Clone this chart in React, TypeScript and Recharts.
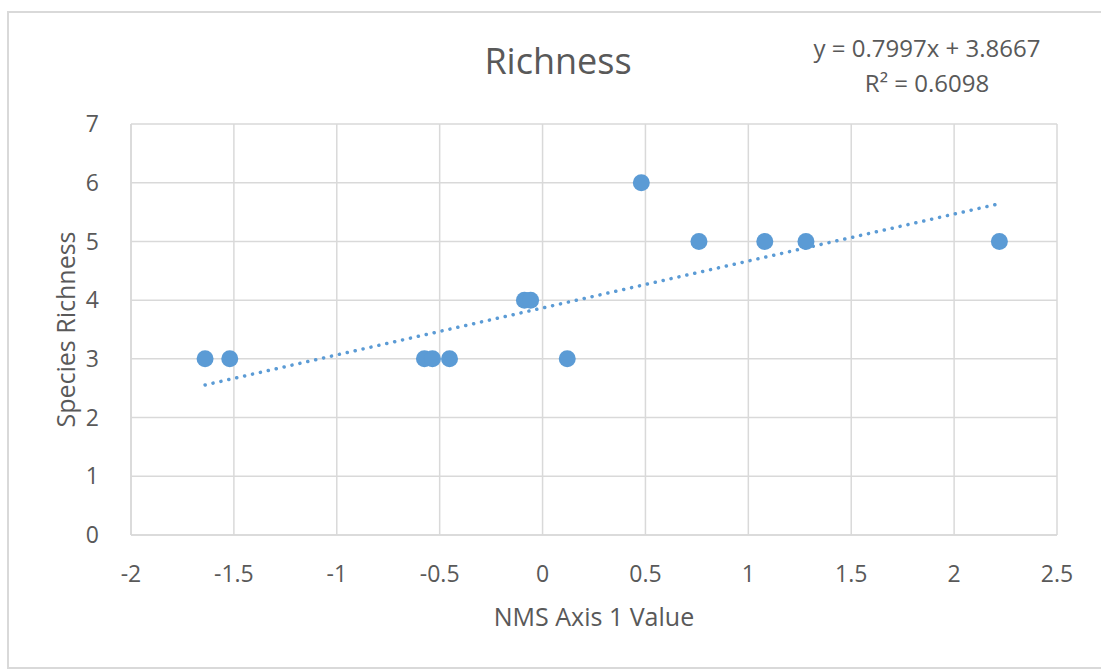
import { ScatterChart, Scatter, XAxis, YAxis, CartesianGrid } from "recharts";

// NMS axis 1 scores and species richness per plot
const nmsAxis1 = [-1.64, -1.52, -0.574, -0.535, -0.452, -0.088, -0.058, 0.12, 0.48, 0.76, 1.08, 1.28, 2.22];
const richness = [3, 3, 3, 3, 3, 4, 4, 3, 6, 5, 5, 5, 5];

const xTicks = [-2, -1.5, -1, -0.5, 0, 0.5, 1, 1.5, 2, 2.5];
const yTicks = [0, 1, 2, 3, 4, 5, 6, 7];

// linear trendline as reported by the spreadsheet
const SLOPE = 0.7997;
const INTERCEPT = 3.8667;
const trendX = [-1.64, 2.22];

const BLUE = "#5b9bd5";
const GRID = "#d9d9d9";
const TEXT = "#595959";
const FONT = "'Open Sans', sans-serif";

const points = nmsAxis1.map((x, i) => ({ x, y: richness[i] }));
const trend = trendX.map((x) => ({ x, y: SLOPE * x + INTERCEPT }));

const Dot = (props: any) => <circle cx={props.cx} cy={props.cy} r={8.5} fill={BLUE} />;

const App = () => {
  return (
    <div
      style={{
        position: "absolute",
        left: 7,
        top: 11,
        width: 1096,
        height: 654,
        border: `2px solid ${GRID}`,
        borderRight: "none",
        background: "#fff",
        fontFamily: FONT,
        color: TEXT,
      }}
    >
      <div
        style={{
          position: "absolute",
          left: 549 - 100,
          width: 200,
          top: 23,
          textAlign: "center",
          fontSize: 36,
        }}
      >
        Richness
      </div>
      <div
        style={{
          position: "absolute",
          left: 778,
          width: 280,
          top: 17,
          textAlign: "center",
          fontSize: 24,
          lineHeight: "35px",
        }}
      >
        <div>y = 0.7997x + 3.8667</div>
        <div>R² = 0.6098</div>
      </div>
      <ScatterChart
        width={1092}
        height={654}
        margin={{ top: 111, right: 44, left: 62, bottom: 42 }}
      >
        <CartesianGrid stroke={GRID} strokeWidth={1.5} />
        <XAxis
          type="number"
          dataKey="x"
          domain={[-2, 2.5]}
          ticks={xTicks}
          interval={0}
          axisLine={{ stroke: GRID, strokeWidth: 1.5 }}
          tickLine={false}
          tickMargin={25}
          tick={{ fill: TEXT, fontSize: 23, fontFamily: FONT }}
          height={90}
          label={{
            value: "NMS Axis 1 Value",
            position: "insideBottom",
            offset: -1,
            fill: TEXT,
            fontSize: 25,
            fontFamily: FONT,
          }}
        />
        <YAxis
          type="number"
          dataKey="y"
          domain={[0, 7]}
          ticks={yTicks}
          interval={0}
          width={60}
          axisLine={{ stroke: GRID, strokeWidth: 1.5 }}
          tickLine={false}
          tickMargin={26}
          tick={{ fill: TEXT, fontSize: 23, fontFamily: FONT }}
          label={{
            value: "Species Richness",
            angle: -90,
            position: "insideLeft",
            offset: -5,
            style: { textAnchor: "middle" },
            fill: TEXT,
            fontSize: 25,
            fontFamily: FONT,
          }}
        />
        <Scatter
          data={trend}
          line={{ stroke: BLUE, strokeWidth: 3.5, strokeDasharray: "0.1 8", strokeLinecap: "round" }}
          shape={() => <g />}
          isAnimationActive={false}
        />
        <Scatter data={points} fill={BLUE} shape={Dot} isAnimationActive={false} />
      </ScatterChart>
    </div>
  );
};

export default App;
